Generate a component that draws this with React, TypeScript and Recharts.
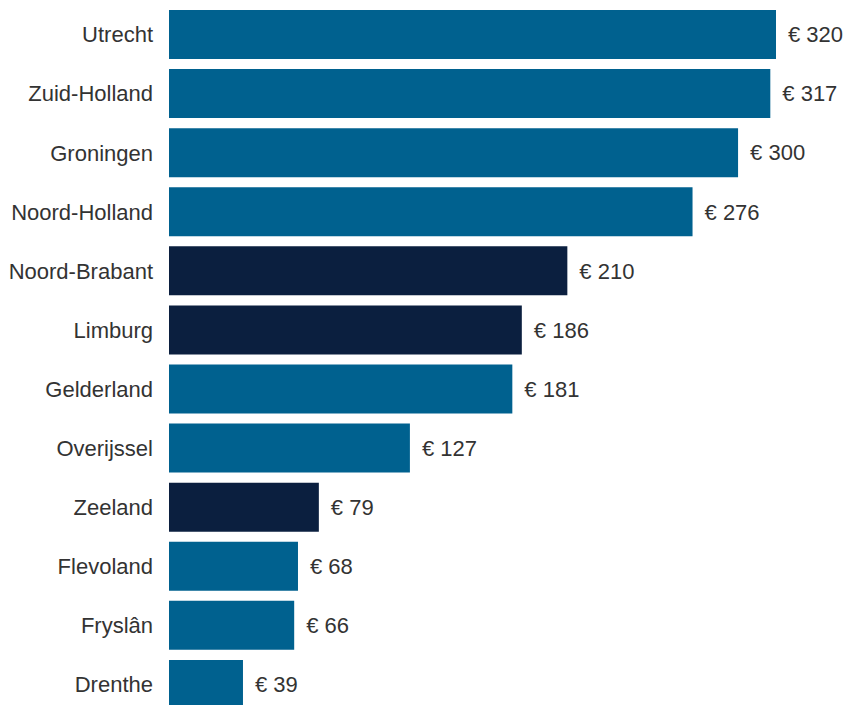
import React from "react";
import { BarChart, Bar, XAxis, YAxis, Cell, LabelList } from "recharts";

const provinces = ["Utrecht", "Zuid-Holland", "Groningen", "Noord-Holland", "Noord-Brabant", "Limburg", "Gelderland", "Overijssel", "Zeeland", "Flevoland", "Fryslân", "Drenthe"];
const values = [320, 317, 300, 276, 210, 186, 181, 127, 79, 68, 66, 39];
const highlighted = ["Noord-Brabant", "Limburg", "Zeeland"];

const BLUE = "#00618F";
const NAVY = "#0B1F3F";

const data = provinces.map((p, i) => ({ name: p, value: values[i] }));

export default function App() {
  return (
    <div style={{ position: "absolute", left: 0, top: 0, width: 846, height: 705, overflow: "hidden", background: "#fff" }}>
      <BarChart
        width={846}
        height={714}
        data={data}
        layout="vertical"
        margin={{ top: 5, right: 70, bottom: 0, left: 0 }}
        barSize={49}
      >
        <XAxis type="number" domain={[0, 320]} hide />
        <YAxis
          type="category"
          dataKey="name"
          width={169}
          axisLine={false}
          tickLine={false}
          tickSize={0}
          tickMargin={16}
          interval={0}
          tick={{ fill: "#333333", fontSize: 22, fontFamily: "Liberation Sans, Arial, sans-serif" }}
        />
        <Bar dataKey="value" isAnimationActive={false}>
          {data.map((d) => (
            <Cell key={d.name} fill={highlighted.includes(d.name) ? NAVY : BLUE} />
          ))}
          <LabelList
            dataKey="value"
            position="right"
            offset={12}
            formatter={(v: number) => `€ ${v}`}
            style={{ fill: "#333333", fontSize: 22, fontFamily: "Liberation Sans, Arial, sans-serif" }}
          />
        </Bar>
      </BarChart>
    </div>
  );
}
